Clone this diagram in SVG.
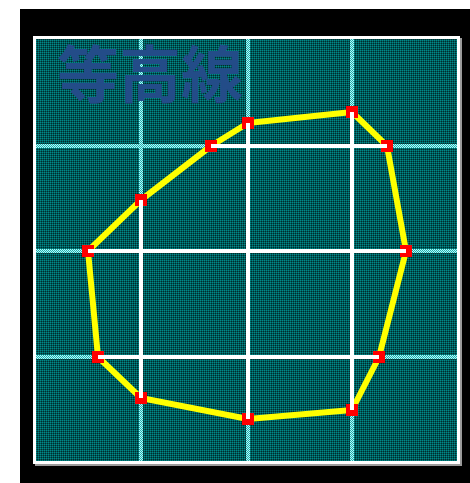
<svg xmlns="http://www.w3.org/2000/svg" width="470" height="483" viewBox="0 0 470 483">
<defs>
<pattern id="teal" width="2" height="2" patternUnits="userSpaceOnUse">
<rect width="2" height="2" fill="#005a5a"/>
<rect width="1" height="1" fill="#008888"/>
<rect x="1" y="1" width="1" height="1" fill="#002c2c"/>
</pattern>
<pattern id="cyan" width="2" height="2" patternUnits="userSpaceOnUse">
<rect width="2" height="2" fill="#a8ffff"/>
<rect width="1" height="1" fill="#30a8a8"/>
<rect x="1" y="1" width="1" height="1" fill="#30a8a8"/>
</pattern>
</defs>
<style>
.grid{stroke:url(#cyan);stroke-width:4;fill:none}
.wline{stroke:#ffffff;stroke-width:4;fill:none}
.contour{stroke:#ffff00;stroke-width:6;fill:none;stroke-linejoin:round}
.pt{fill:#ff0000}
.title{font-family:"Noto Sans CJK JP","Noto Sans CJK SC",sans-serif;font-weight:bold;font-size:62px;fill:#234c88}
</style>
<rect x="20" y="9" width="450" height="474" fill="#000000"/>
<g id="panel">
<rect x="35" y="38" width="427" height="428" fill="#9a9a9a"/>
<rect x="33" y="36" width="427" height="428" fill="#ffffff"/>
<rect x="36" y="39" width="421" height="422" fill="url(#teal)"/>
</g>
<g id="grid">
<line class="grid" x1="141" y1="39" x2="141" y2="461"/>
<line class="grid" x1="248" y1="39" x2="248" y2="461"/>
<line class="grid" x1="352" y1="39" x2="352" y2="461"/>
<line class="grid" x1="36" y1="146" x2="457" y2="146"/>
<line class="grid" x1="36" y1="251" x2="457" y2="251"/>
<line class="grid" x1="36" y1="357" x2="457" y2="357"/>
</g>
<text id="title" class="title" x="57" y="98">等高線</text>
<g id="connectors">
<polygon class="contour" points="248,123 352,112 387,146 406,251 379,357 352,410 248,419 141,398 98,357 88,251 141,200 211,146"/>
</g>
<g id="points">
<rect class="pt" x="242" y="117" width="12" height="12"/>
<rect class="pt" x="346" y="106" width="12" height="12"/>
<rect class="pt" x="381" y="140" width="12" height="12"/>
<rect class="pt" x="400" y="245" width="12" height="12"/>
<rect class="pt" x="373" y="351" width="12" height="12"/>
<rect class="pt" x="346" y="404" width="12" height="12"/>
<rect class="pt" x="242" y="413" width="12" height="12"/>
<rect class="pt" x="135" y="392" width="12" height="12"/>
<rect class="pt" x="92" y="351" width="12" height="12"/>
<rect class="pt" x="82" y="245" width="12" height="12"/>
<rect class="pt" x="135" y="194" width="12" height="12"/>
<rect class="pt" x="205" y="140" width="12" height="12"/>
</g>
<g id="inner-lines">
<line class="wline" x1="211" y1="146" x2="387" y2="146"/>
<line class="wline" x1="88" y1="251" x2="406" y2="251"/>
<line class="wline" x1="98" y1="357" x2="379" y2="357"/>
<line class="wline" x1="141" y1="200" x2="141" y2="398"/>
<line class="wline" x1="248" y1="123" x2="248" y2="419"/>
<line class="wline" x1="352" y1="112" x2="352" y2="410"/>
</g>
</svg>
